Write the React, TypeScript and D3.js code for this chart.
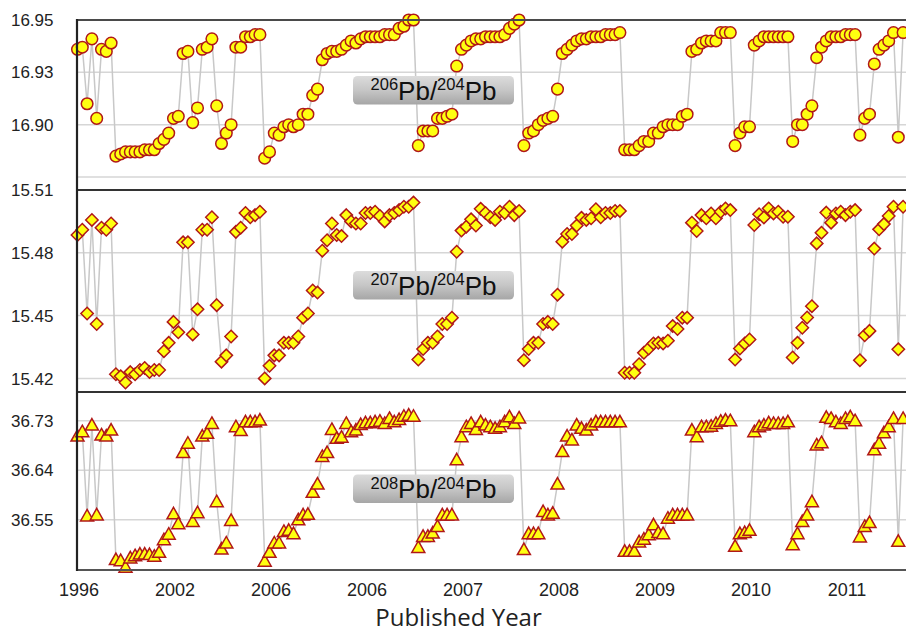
import React from "react";
import * as d3 from "d3";

// ---------- data ----------
const xTickLabels = ["1996", "2002", "2006", "2006", "2007", "2008", "2009", "2010", "2011"];

const pb206 = [
  16.936, 16.937, 16.910, 16.941, 16.903, 16.936, 16.935, 16.939, 16.885, 16.886,
  16.887, 16.887, 16.887, 16.887, 16.888, 16.888, 16.888, 16.891, 16.893, 16.896,
  16.903, 16.904, 16.934, 16.935, 16.901, 16.908, 16.936, 16.937, 16.941, 16.909,
  16.891, 16.896, 16.900, 16.937, 16.937, 16.942, 16.942, 16.943, 16.943, 16.884,
  16.887, 16.896, 16.895, 16.899, 16.900, 16.899, 16.900, 16.905, 16.905, 16.914,
  16.917, 16.931, 16.934, 16.935, 16.935, 16.936, 16.938, 16.940, 16.939, 16.941,
  16.942, 16.942, 16.942, 16.942, 16.943, 16.943, 16.943, 16.946, 16.947, 16.950,
  16.950, 16.890, 16.897, 16.897, 16.897, 16.903, 16.903, 16.904, 16.905, 16.928,
  16.936, 16.938, 16.940, 16.941, 16.941, 16.942, 16.942, 16.942, 16.942, 16.943,
  16.946, 16.948, 16.950, 16.890, 16.896, 16.897, 16.900, 16.902, 16.903, 16.904,
  16.917, 16.934, 16.936, 16.938, 16.940, 16.941, 16.941, 16.942, 16.942, 16.942,
  16.943, 16.943, 16.943, 16.944, 16.888, 16.888, 16.888, 16.890, 16.892, 16.892,
  16.896, 16.896, 16.899, 16.900, 16.900, 16.900, 16.904, 16.905, 16.935, 16.936,
  16.939, 16.940, 16.940, 16.940, 16.944, 16.944, 16.944, 16.890, 16.896, 16.899,
  16.899, 16.938, 16.940, 16.942, 16.942, 16.942, 16.942, 16.942, 16.942, 16.892,
  16.900, 16.900, 16.905, 16.909, 16.932, 16.937, 16.940, 16.942, 16.942, 16.942,
  16.943, 16.943, 16.943, 16.895, 16.903, 16.905, 16.929, 16.936, 16.938, 16.940,
  16.944, 16.894, 16.944,
];

const pb207 = [
  15.4885, 15.491, 15.451, 15.4957, 15.446, 15.492, 15.491, 15.494, 15.422, 15.421,
  15.418, 15.423, 15.422, 15.424, 15.425, 15.423, 15.424, 15.424, 15.433, 15.437,
  15.447, 15.442, 15.485, 15.485, 15.441, 15.453, 15.491, 15.491, 15.497, 15.455,
  15.428, 15.431, 15.440, 15.490, 15.492, 15.499, 15.497, 15.498, 15.4996, 15.420,
  15.426, 15.431, 15.431, 15.437, 15.437, 15.437, 15.440, 15.449, 15.451, 15.462,
  15.461, 15.481, 15.486, 15.494, 15.4885, 15.488, 15.498, 15.495, 15.494, 15.494,
  15.499, 15.499, 15.4996, 15.4976, 15.495, 15.498, 15.499, 15.5004, 15.502, 15.502,
  15.504, 15.429, 15.434, 15.437, 15.437, 15.440, 15.446, 15.446, 15.449, 15.4805,
  15.4906, 15.4925, 15.496, 15.493, 15.501, 15.499, 15.497, 15.4957, 15.4996, 15.499,
  15.502, 15.498, 15.500, 15.4287, 15.434, 15.437, 15.437, 15.446, 15.447, 15.446,
  15.460, 15.4853, 15.489, 15.489, 15.493, 15.4967, 15.4957, 15.4965, 15.5008, 15.497,
  15.499, 15.499, 15.500, 15.500, 15.4227, 15.4227, 15.4227, 15.4268, 15.4322, 15.4343,
  15.4367, 15.437, 15.4367, 15.438, 15.445, 15.4436, 15.449, 15.449, 15.4944, 15.4904,
  15.498, 15.4965, 15.4988, 15.4965, 15.4996, 15.5012, 15.5004, 15.429, 15.4343, 15.4367,
  15.4386, 15.4933, 15.4984, 15.4969, 15.5012, 15.4988, 15.4996, 15.4972, 15.4972, 15.430,
  15.437, 15.4442, 15.4491, 15.4545, 15.4845, 15.4896, 15.4992, 15.4944, 15.4988, 15.4996,
  15.498, 15.4996, 15.5004, 15.4287, 15.4406, 15.4427, 15.482, 15.4912, 15.4937, 15.4976,
  15.502, 15.4339, 15.502,
];

const pb208 = [
  36.702, 36.710, 36.557, 36.722, 36.559, 36.704, 36.702, 36.713, 36.478, 36.476,
  36.464, 36.481, 36.485, 36.488, 36.488, 36.487, 36.484, 36.491, 36.514, 36.524,
  36.561, 36.543, 36.672, 36.689, 36.547, 36.563, 36.702, 36.707, 36.725, 36.583,
  36.497, 36.508, 36.549, 36.719, 36.712, 36.728, 36.728, 36.728, 36.731, 36.475,
  36.491, 36.508, 36.508, 36.529, 36.531, 36.525, 36.550, 36.559, 36.560, 36.600,
  36.615, 36.665, 36.672, 36.714, 36.698, 36.700, 36.725, 36.710, 36.713, 36.723,
  36.726, 36.726, 36.728, 36.729, 36.725, 36.734, 36.728, 36.732, 36.738, 36.740,
  36.738, 36.500, 36.520, 36.520, 36.526, 36.538, 36.559, 36.559, 36.559, 36.659,
  36.701, 36.719, 36.725, 36.714, 36.728, 36.722, 36.719, 36.716, 36.719, 36.728,
  36.737, 36.725, 36.735, 36.496, 36.525, 36.525, 36.525, 36.565, 36.559, 36.562,
  36.615, 36.674, 36.702, 36.695, 36.722, 36.716, 36.713, 36.722, 36.728, 36.728,
  36.728, 36.728, 36.728, 36.728, 36.493, 36.493, 36.493, 36.510, 36.515, 36.523,
  36.541, 36.527, 36.525, 36.553, 36.559, 36.559, 36.559, 36.559, 36.713, 36.701,
  36.719, 36.719, 36.720, 36.725, 36.729, 36.731, 36.730, 36.502, 36.525, 36.527,
  36.531, 36.710, 36.719, 36.722, 36.726, 36.725, 36.725, 36.725, 36.728, 36.505,
  36.525, 36.547, 36.559, 36.583, 36.686, 36.690, 36.736, 36.734, 36.728, 36.725,
  36.734, 36.737, 36.730, 36.519, 36.538, 36.545, 36.677, 36.689, 36.708, 36.719,
  36.734, 36.511, 36.734,
];

const ticks206 = [16.95, 16.925, 16.9, 16.875];
const tickLabels206 = ["16.95", "16.93", "16.90", ""];
const ticks207 = [15.51, 15.48, 15.45, 15.42];
const tickLabels207 = ["15.51", "15.48", "15.45", "15.42"];
const ticks208 = [36.73, 36.64, 36.55];
const tickLabels208 = ["36.73", "36.64", "36.55"];

const labelSup1 = ["206", "207", "208"];
const labelSup2 = ["204", "204", "204"];

// ---------- layout ----------
const W = 906;
const H = 631;
const AXIS_X = 77;
const FONT = "'Liberation Sans', Arial, sans-serif";

const panels = [
  { values: pb206, domain: [16.8688, 16.95], range: [190, 20], ticks: ticks206, tickLabels: tickLabels206, marker: "circle", labelY: 76 },
  { values: pb207, domain: [15.4135, 15.51], range: [392, 190], ticks: ticks207, tickLabels: tickLabels207, marker: "diamond", labelY: 271 },
  { values: pb208, domain: [36.459, 36.782], range: [570, 392], ticks: ticks208, tickLabels: tickLabels208, marker: "triangle", labelY: 474.5 },
];

const x = d3.scaleLinear().domain([0, 160]).range([77.5, 845.5]);

const FILL = "#ffff10";
const STROKE = "#b01818";

function Marker({ kind, cx, cy }: { kind: string; cx: number; cy: number }) {
  if (kind === "circle") {
    return <circle cx={cx} cy={cy} r={5.8} fill={FILL} stroke={STROKE} strokeWidth={1.5} />;
  }
  if (kind === "diamond") {
    const p = d3.path();
    p.moveTo(cx, cy - 6.2);
    p.lineTo(cx + 6.2, cy);
    p.lineTo(cx, cy + 6.2);
    p.lineTo(cx - 6.2, cy);
    p.closePath();
    return <path d={p.toString()} fill={FILL} stroke={STROKE} strokeWidth={1.5} strokeLinejoin="miter" />;
  }
  const p = d3.path();
  p.moveTo(cx, cy - 6.5);
  p.lineTo(cx + 6.5, cy + 5);
  p.lineTo(cx - 6.5, cy + 5);
  p.closePath();
  return <path d={p.toString()} fill={FILL} stroke={STROKE} strokeWidth={1.5} strokeLinejoin="miter" />;
}

export default function App() {
  return (
    <svg
      width={W}
      height={H}
      viewBox={`0 0 ${W} ${H}`}
      style={{ position: "fixed", left: 0, top: 0, background: "#fff" }}
    >
      <defs>
        <linearGradient id="lblGrad" x1="0" y1="0" x2="0" y2="1">
          <stop offset="0" stopColor="#dcdcdc" />
          <stop offset="0.5" stopColor="#c6c6c6" />
          <stop offset="1" stopColor="#a6a6a6" />
        </linearGradient>
      </defs>
      <rect x={0} y={0} width={W} height={H} fill="#fff" />

      {panels.map((pn, pi) => {
        const y = d3.scaleLinear().domain(pn.domain).range(pn.range);
        const line = d3
          .line<number>()
          .x((_, i) => x(i))
          .y((d) => y(d));
        return (
          <g key={pi}>
            {pn.ticks.map((t, ti) => (
              <g key={ti}>
                <line x1={AXIS_X} x2={W} y1={y(t)} y2={y(t)} stroke="#d6d6d6" strokeWidth={1.5} />
                {pn.tickLabels[ti] && (
                  <text
                    x={53.5}
                    y={y(t)}
                    dy="0.36em"
                    textAnchor="end"
                    fontFamily={FONT}
                    fontSize={17}
                    fill="#222"
                  >
                    {pn.tickLabels[ti]}
                  </text>
                )}
              </g>
            ))}
            <path d={line(pn.values) || ""} fill="none" stroke="#c8c8c8" strokeWidth={1.5} />
            {pn.values.map((v, i) => (
              <Marker key={i} kind={pn.marker} cx={x(i)} cy={y(v)} />
            ))}
          </g>
        );
      })}

      {/* frame */}
      <line x1={AXIS_X} x2={W} y1={20} y2={20} stroke="#4a4a4a" strokeWidth={2} />
      <line x1={AXIS_X} x2={W} y1={190} y2={190} stroke="#333" strokeWidth={2} />
      <line x1={AXIS_X} x2={W} y1={392} y2={392} stroke="#333" strokeWidth={2} />
      <line x1={AXIS_X} x2={W} y1={570} y2={570} stroke="#555" strokeWidth={2} />
      <line x1={AXIS_X} x2={AXIS_X} y1={19} y2={571} stroke="#222" strokeWidth={2.2} />

      {/* panel labels */}
      {panels.map((pn, pi) => (
        <g key={"lbl" + pi}>
          <rect x={353} y={pn.labelY} width={161} height={28.5} rx={4.5} fill="url(#lblGrad)" />
          <text x={433.5} y={pn.labelY + 23.5} textAnchor="middle" fontFamily={FONT} fill="#111">
            <tspan fontSize={16.5} dy={-9.5}>{labelSup1[pi]}</tspan>
            <tspan fontSize={26} dy={9.5}>Pb/</tspan>
            <tspan fontSize={16.5} dy={-9.5}>{labelSup2[pi]}</tspan>
            <tspan fontSize={26} dy={9.5}>Pb</tspan>
          </text>
        </g>
      ))}

      {/* x tick labels */}
      {xTickLabels.map((lab, i) => (
        <text
          key={i}
          x={x(i * 20) + 1.5}
          y={589.5}
          dy="0.36em"
          textAnchor="middle"
          fontFamily={FONT}
          fontSize={18}
          fill="#222"
        >
          {lab}
        </text>
      ))}

      <text x={458.5} y={625.5} textAnchor="middle" fontFamily="'Open Sans', sans-serif" fontSize={24} fill="#222">
        Published Year
      </text>
    </svg>
  );
}
